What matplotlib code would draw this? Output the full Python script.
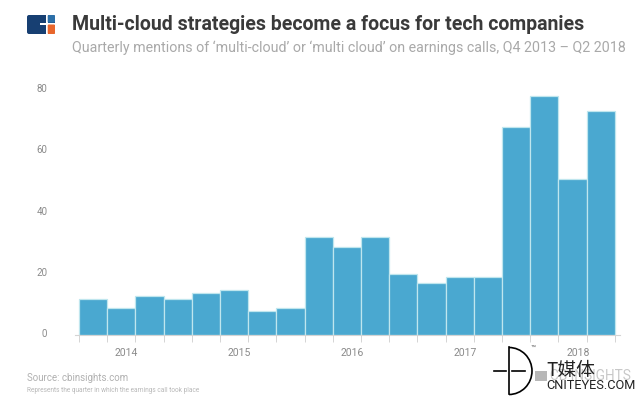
import numpy as np
import matplotlib
matplotlib.use('Agg')
from matplotlib import pyplot
from matplotlib.patches import FancyBboxPatch, Rectangle, Arc

W, H = 644, 406

#data:
mentions   = [11, 8, 12, 11, 13, 14, 7, 8, 31, 28, 31, 19, 16, 18, 18, 67, 77, 50, 72]
yticks     = [0, 20, 40, 60, 80]
years      = ['2014', '2015', '2016', '2017', '2018']
year_pos   = [1.66, 5.67, 9.68, 13.69, 17.7]   #year label position, in bar-edge units
year_edges = [1, 5, 9, 13, 17]                 #long ticks
title      = 'Multi-cloud strategies become a focus for tech companies'
subtitle   = 'Quarterly mentions of ‘multi-cloud’ or ‘multi cloud’ on earnings calls, Q4 2013 – Q2 2018'
source     = 'Source: cbinsights.com'
note       = 'Represents the quarter in which the earnings call took place'

BLUE = '#4aa8d0'

pyplot.rcParams['font.family'] = ['Roboto', 'DejaVu Sans']
fig = pyplot.figure(figsize=(W/100, H/100), dpi=100, facecolor='white')

#axes: x in bar units, bar i spans i..i+1
#zero sits a little above the axis line in the original, bars run down to the line
step = 28.2
x0   = 79.0
yscale = 3.07
y0   = 333.5
ax_l, ax_r = 75.0, 620.0
ax_b, ax_t = 336.0, 84.0
ax = fig.add_axes([ax_l/W, 1-ax_b/H, (ax_r-ax_l)/W, (ax_b-ax_t)/H])
ax.set_xlim((ax_l-x0)/step, (ax_r-x0)/step)
ymin = -(ax_b-y0)/yscale
ax.set_ylim(ymin, (y0-ax_t)/yscale)
ax.patch.set_visible(False)

x = np.arange(len(mentions))
ax.bar(x, np.array(mentions)-ymin, bottom=ymin, width=1.0, align='edge',
       color=BLUE, edgecolor='#bfe6ee', linewidth=0.9)

for s in ['top', 'left', 'right']:
    ax.spines[s].set_visible(False)
ax.spines['bottom'].set_color('#d4d4d4')
ax.spines['bottom'].set_linewidth(0.8)

ax.set_yticks(yticks)
ax.tick_params(axis='y', length=0, labelsize=7, labelcolor='#8a8a8a', pad=20)
ax.set_xticks(np.arange(0, len(mentions)+1), labels=[])
ax.tick_params(axis='x', length=5, width=0.7, color='#d4d4d4')
ax.set_xticks(year_edges, minor=True)
ax.tick_params(axis='x', which='minor', length=12, width=0.7, color='#d4d4d4')
for yr, pos in zip(years, year_pos):
    ax.annotate(yr, (pos, 0), xycoords=('data', 'axes fraction'), xytext=(0, -12),
                textcoords='offset points', ha='center', va='center', fontsize=7.5, color='#8a8a8a')

#header and footer, placed in pixels
def put(px, py, s, **kw):
    fig.text(px/W, 1-py/H, s, va='center', ha='left', **kw)

put(72, 24, title, fontsize=14.05, fontweight='bold', color='#3a3a3a')
put(72, 48, subtitle, fontsize=10.3, color='#a9a9a9')
put(27, 378, source, fontsize=7, color='#b0b0b0')
put(27, 391, note, fontsize=4.7, color='#b8b8b8')

#overlay axes in pixel coordinates for the logos
ov = fig.add_axes([0, 0, 1, 1])
ov.set_xlim(0, W)
ov.set_ylim(H, 0)
ov.axis('off')
ov.patch.set_visible(False)

#CB Insights logo
ov.add_patch(FancyBboxPatch((27, 16), 28, 19, boxstyle='round,pad=0,rounding_size=2', fc='#173f72', ec='none'))
ov.add_patch(Rectangle((40, 23.7), 15, 1.8, fc='white', ec='none'))
ov.add_patch(Rectangle((46.5, 16), 1.2, 19, fc='white', ec='none'))
ov.add_patch(FancyBboxPatch((47.7, 25.5), 7.3, 9.5, boxstyle='round,pad=0,rounding_size=1', fc='#e8662c', ec='none'))
ov.add_patch(FancyBboxPatch((47.7, 16), 7.3, 7.7, boxstyle='round,pad=0,rounding_size=1', fc='#2c6fa8', ec='none'))

#watermark
ov.add_patch(Rectangle((535, 372), 12, 9.5, fc='#b8b8b8', ec='none'))
ov.text(550, 376, 'CB INSIGHTS', fontsize=9.8, color='#c8c8c8', va='center', ha='left')
ov.plot([509, 509], [348, 395], color='black', lw=1.2)
ov.plot([494, 506], [372, 372], color='black', lw=1.2)
ov.plot([512, 525], [372, 372], color='black', lw=1.2)
ov.add_patch(Arc((509, 372), 46, 47, theta1=-90, theta2=90, color='black', lw=1.2))
ov.text(546, 371, 'T媒体', fontsize=13.5, color='#222222', va='center', ha='left',
        family=['Noto Sans CJK SC', 'DejaVu Sans'])
ov.text(546, 386, 'CNITEYES.COM', fontsize=9.2, color='#222222', va='center', ha='left')
ov.text(533, 349, '™', fontsize=6, color='#555555', va='center', ha='center')

fig.savefig('out.png', dpi=100)
